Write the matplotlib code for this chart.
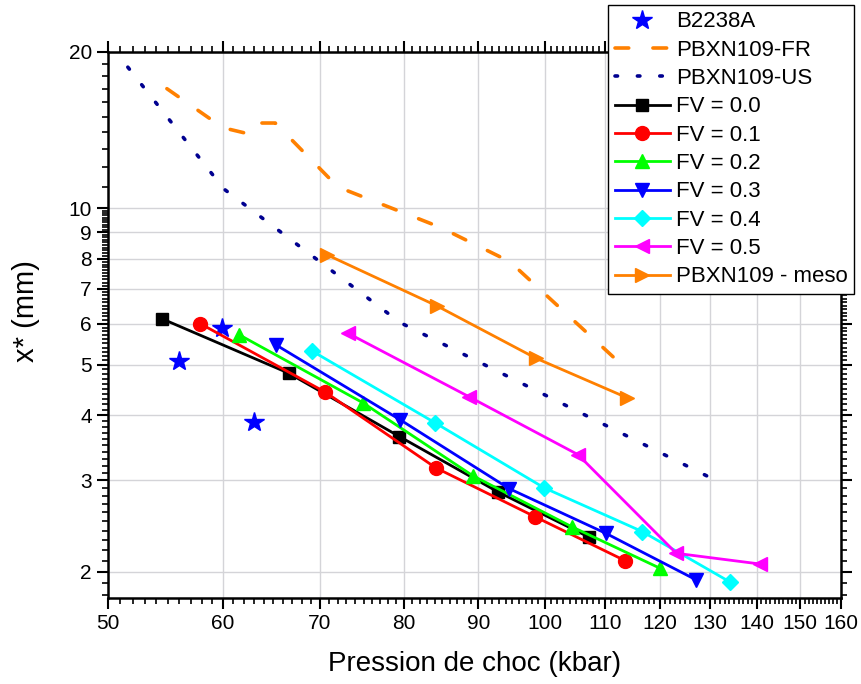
import numpy as np
import matplotlib.pyplot as plt
from matplotlib.ticker import FixedLocator, NullFormatter

plt.rcParams['font.family'] = ['Liberation Sans', 'DejaVu Sans']

# B2238A (points expérimentaux)
p_b2238a = [56.0, 59.9, 63.0]
x_b2238a = [5.09, 5.89, 3.89]

# PBXN109 - courbes de référence
p_fr = [54.9, 60.0, 62.6, 63.4, 65.2, 72.0, 84.7, 94.6, 113.0]
x_fr = [17.0, 14.3, 13.9, 14.6, 14.6, 11.0, 9.2, 7.9, 5.0]
p_us = [51.6, 60.1, 79.5, 131.4]
x_us = [18.7, 10.9, 6.03, 2.99]

# simulations méso, fraction volumique FV
p_fv00 = [54.5, 66.6, 79.4, 92.8, 107.3]
x_fv00 = [6.13, 4.82, 3.64, 2.85, 2.33]
p_fv01 = [57.9, 70.6, 84.1, 98.5, 113.6]
x_fv01 = [6.0, 4.43, 3.17, 2.55, 2.10]
p_fv02 = [61.6, 74.9, 89.2, 104.4, 120.1]
x_fv02 = [5.71, 4.23, 3.06, 2.44, 2.03]
p_fv03 = [65.3, 79.5, 94.5, 110.2, 127.1]
x_fv03 = [5.46, 3.92, 2.89, 2.37, 1.93]
p_fv04 = [69.1, 84.0, 99.9, 116.7, 134.2]
x_fv04 = [5.32, 3.87, 2.90, 2.39, 1.91]
p_fv05 = [73.2, 88.7, 105.4, 123.2, 140.6]
x_fv05 = [5.75, 4.34, 3.36, 2.17, 2.07]
p_meso = [70.8, 84.3, 98.6, 114.0]
x_meso = [8.14, 6.49, 5.15, 4.32]

fig = plt.figure(figsize=(8.61, 6.84), dpi=100)
ax = fig.add_axes([0.1254, 0.1257, 0.8514, 0.7983])

ax.plot(p_b2238a, x_b2238a, ls='none', marker='*', ms=15, color='#0000FF',
        label='B2238A')
ax.plot(p_fr, x_fr, color='#FF8000', lw=2.6, dashes=(3.8, 6.7),
        dash_capstyle='round', label='PBXN109-FR')
ax.plot(p_us, x_us, color='#000090', lw=2.6, dashes=(0.7, 5.5),
        dash_capstyle='round', label='PBXN109-US')

fv_style = [
    (p_fv00, x_fv00, 'black', 's', 8, 'FV = 0.0'),
    (p_fv01, x_fv01, '#FF0000', 'o', 10, 'FV = 0.1'),
    (p_fv02, x_fv02, '#00FF00', '^', 10, 'FV = 0.2'),
    (p_fv03, x_fv03, '#0000FF', 'v', 10, 'FV = 0.3'),
    (p_fv04, x_fv04, '#00FFFF', 'D', 8, 'FV = 0.4'),
    (p_fv05, x_fv05, '#FF00FF', '<', 10, 'FV = 0.5'),
    (p_meso, x_meso, '#FF8000', '>', 10, 'PBXN109 - meso'),
]
for p, x, c, m, ms, lab in fv_style:
    ax.plot(p, x, color=c, lw=2, marker=m, ms=ms, label=lab)

ax.set_xscale('log')
ax.set_yscale('log')
ax.set_xlim(50, 160)
ax.set_ylim(1.78, 20)

xmaj = [50, 60, 70, 80, 90, 100, 110, 120, 130, 140, 150, 160]
ymaj = [2, 3, 4, 5, 6, 7, 8, 9, 10, 20]
ax.xaxis.set_major_locator(FixedLocator(xmaj))
ax.xaxis.set_minor_locator(FixedLocator([v for v in range(50, 161) if v % 10]))
ax.yaxis.set_major_locator(FixedLocator(ymaj))
ymin_ticks = [round(v, 1) for v in np.arange(1.8, 10, 0.1) if abs(v - round(v)) > 1e-6]
ymin_ticks += list(range(11, 20))
ax.yaxis.set_minor_locator(FixedLocator(ymin_ticks))
ax.set_xticklabels([str(v) for v in xmaj])
ax.set_yticklabels([str(v) for v in ymaj])
ax.xaxis.set_minor_formatter(NullFormatter())
ax.yaxis.set_minor_formatter(NullFormatter())

ax.tick_params(which='both', direction='out', top=True, right=True,
               labelsize=15, width=1.5)
ax.tick_params(which='major', length=8)
ax.tick_params(which='minor', length=4.5, width=1.2)
for s in ax.spines.values():
    s.set_linewidth(1.8)

ax.grid(True, which='major', color='#D4D4D8', lw=1)
ax.set_axisbelow(True)

ax.set_xlabel('Pression de choc (kbar)', fontsize=20, labelpad=13)
ax.set_ylabel('x* (mm)', fontsize=21)
ax.yaxis.set_label_coords(-0.093, 0.525)

leg = fig.legend(loc='upper left', bbox_to_anchor=(0.706, 0.993),
                 bbox_transform=fig.transFigure, fontsize=16, numpoints=1,
                 handlelength=2.5, handletextpad=0.25, labelspacing=0.33,
                 borderaxespad=0, borderpad=0.3, fancybox=False,
                 edgecolor='black', framealpha=1)
leg.get_frame().set_linewidth(1)

fig.savefig('out.png', dpi=100)
